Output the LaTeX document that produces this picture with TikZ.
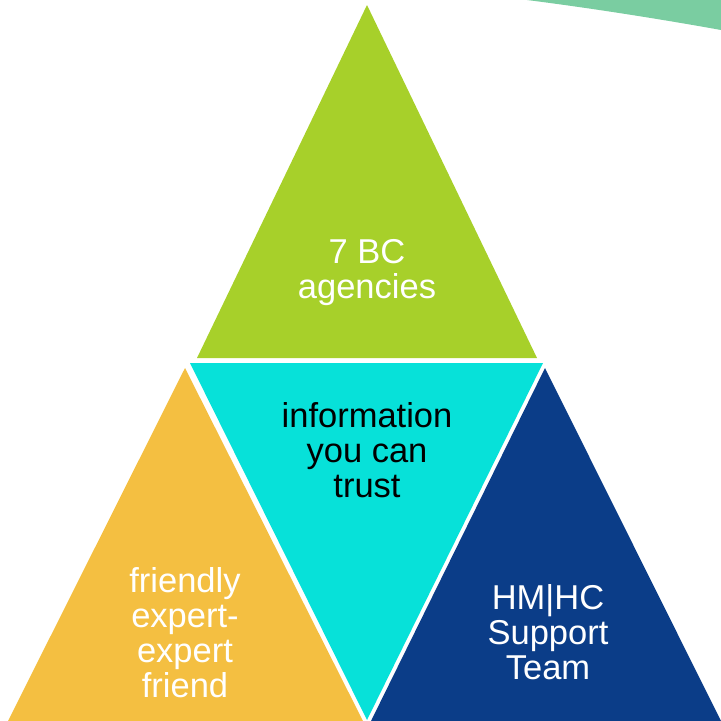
\documentclass[tikz,border=0pt]{standalone}
\usepackage{fontspec}
\setmainfont{Liberation Sans}
\definecolor{leaf}{HTML}{A7D02A}
\definecolor{aqua}{HTML}{07E1D9}
\definecolor{sun}{HTML}{F4BF41}
\definecolor{navy}{HTML}{0B3D88}
\definecolor{mint}{HTML}{7ACDA1}
\tikzset{lbl/.style={align=center,anchor=base,text=white,
    font=\fontsize{34.5}{35}\selectfont}}
\begin{document}
\begin{tikzpicture}[x=1pt,y=-1pt]
	\useasboundingbox (0,0) rectangle (721,721);
	% corners
	\node [coordinate] (GT) at (367,  5) {};
	\node [coordinate] (GL) at (197,358) {};
	\node [coordinate] (GR) at (537,358) {};
	\node [coordinate] (CL) at (190,363) {};
	\node [coordinate] (CR) at (543,363) {};
	\node [coordinate] (CB) at (367,720) {};
	\node [coordinate] (YT) at (185,368) {};
	\node [coordinate] (YL) at (  8,721) {};
	\node [coordinate] (YR) at (363,721) {};
	\node [coordinate] (BT) at (545,368) {};
	\node [coordinate] (BL) at (371,721) {};
	\node [coordinate] (BR) at (721,721) {};
	\fill[mint] (527,0) .. controls (590,8) and (660,19) .. (721,30) -- (721,0) -- cycle;
	\fill[leaf] (GT) -- (GR) -- (GL) -- cycle;
	\fill[aqua] (CL) -- (CR) -- (CB) -- cycle;
	\fill[sun]  (YT) -- (YR) -- (YL) -- cycle;
	\fill[navy] (BT) -- (BR) -- (BL) -- cycle;
	% labels (base = last line)
	\node [lbl] (agencies) at (367,298) {7 BC\\agencies};
	\node [lbl,text=black] (trust) at (367,497) {information\\you can\\trust};
	\node [lbl] (friend) at (185,697) {friendly\\expert-\\expert\\friend};
	\node [lbl] (team) at (548,679) {HM|HC\\Support\\Team};
\end{tikzpicture}
\end{document}
